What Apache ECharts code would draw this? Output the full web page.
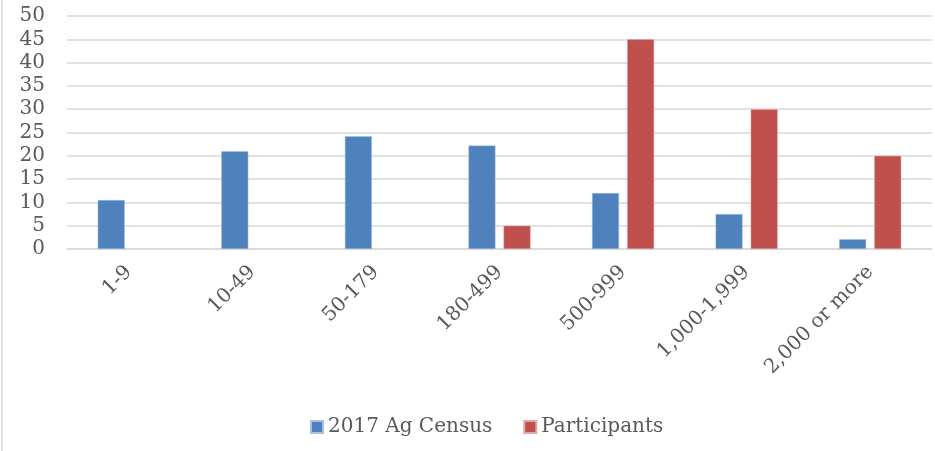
<!DOCTYPE html>
<html>
<head>
<meta charset="utf-8">
<script src="https://cdn.jsdelivr.net/npm/echarts@6/dist/echarts.min.js"></script>
<style>html,body{margin:0;padding:0;background:#fff}#c{width:935px;height:451px}</style>
</head>
<body>
<div id="c"></div>
<script>
const categories = ['1-9', '10-49', '50-179', '180-499', '500-999', '1,000-1,999', '2,000 or more'];
const censusValues = [10.5, 21, 24.2, 22.2, 12, 7.5, 2.1];
const participantValues = [null, null, null, 5, 45, 30, 20];
const seriesNames = ['2017 Ag Census', 'Participants'];

const font = '"DejaVu Serif", "Liberation Serif", serif';
const chart = echarts.init(document.getElementById('c'));
chart.setOption({
  animation: false,
  backgroundColor: '#fff',
  textStyle: { fontFamily: font },
  graphic: [{
    type: 'line', shape: { x1: 2, y1: 0, x2: 2, y2: 451 },
    style: { stroke: '#d9d9d9', lineWidth: 1.5 }, silent: true
  }],
  grid: { left: 67, right: 3, top: 16, bottom: 202, containLabel: false },
  legend: {
    top: 412, left: 305, itemWidth: 12, itemHeight: 12, itemGap: 31,
    icon: 'rect',
    textStyle: { fontFamily: font, fontSize: 20, color: '#595959' },
    data: seriesNames
  },
  xAxis: {
    type: 'category', data: categories,
    axisLine: { lineStyle: { color: '#d9d9d9', width: 1.5 } },
    axisTick: { show: false },
    axisLabel: { rotate: 45, interval: 0, margin: 20, fontFamily: font, fontSize: 20, color: '#595959' }
  },
  yAxis: {
    type: 'value', min: 0, max: 50, interval: 5,
    axisLine: { show: false }, axisTick: { show: false },
    splitLine: { lineStyle: { color: '#d9d9d9', width: 1.5 } },
    axisLabel: { margin: 22, fontFamily: font, fontSize: 20, color: '#595959' }
  },
  series: [
    { name: seriesNames[0], type: 'bar', data: censusValues, barWidth: 27, barGap: '30%',
      itemStyle: { color: '#4f81bd', borderColor: '#a9c0de', borderWidth: 0.5 } },
    { name: seriesNames[1], type: 'bar', data: participantValues, barWidth: 27,
      itemStyle: { color: '#c0504d', borderColor: '#e0a8a6', borderWidth: 0.5 } }
  ]
});
</script>
</body>
</html>
